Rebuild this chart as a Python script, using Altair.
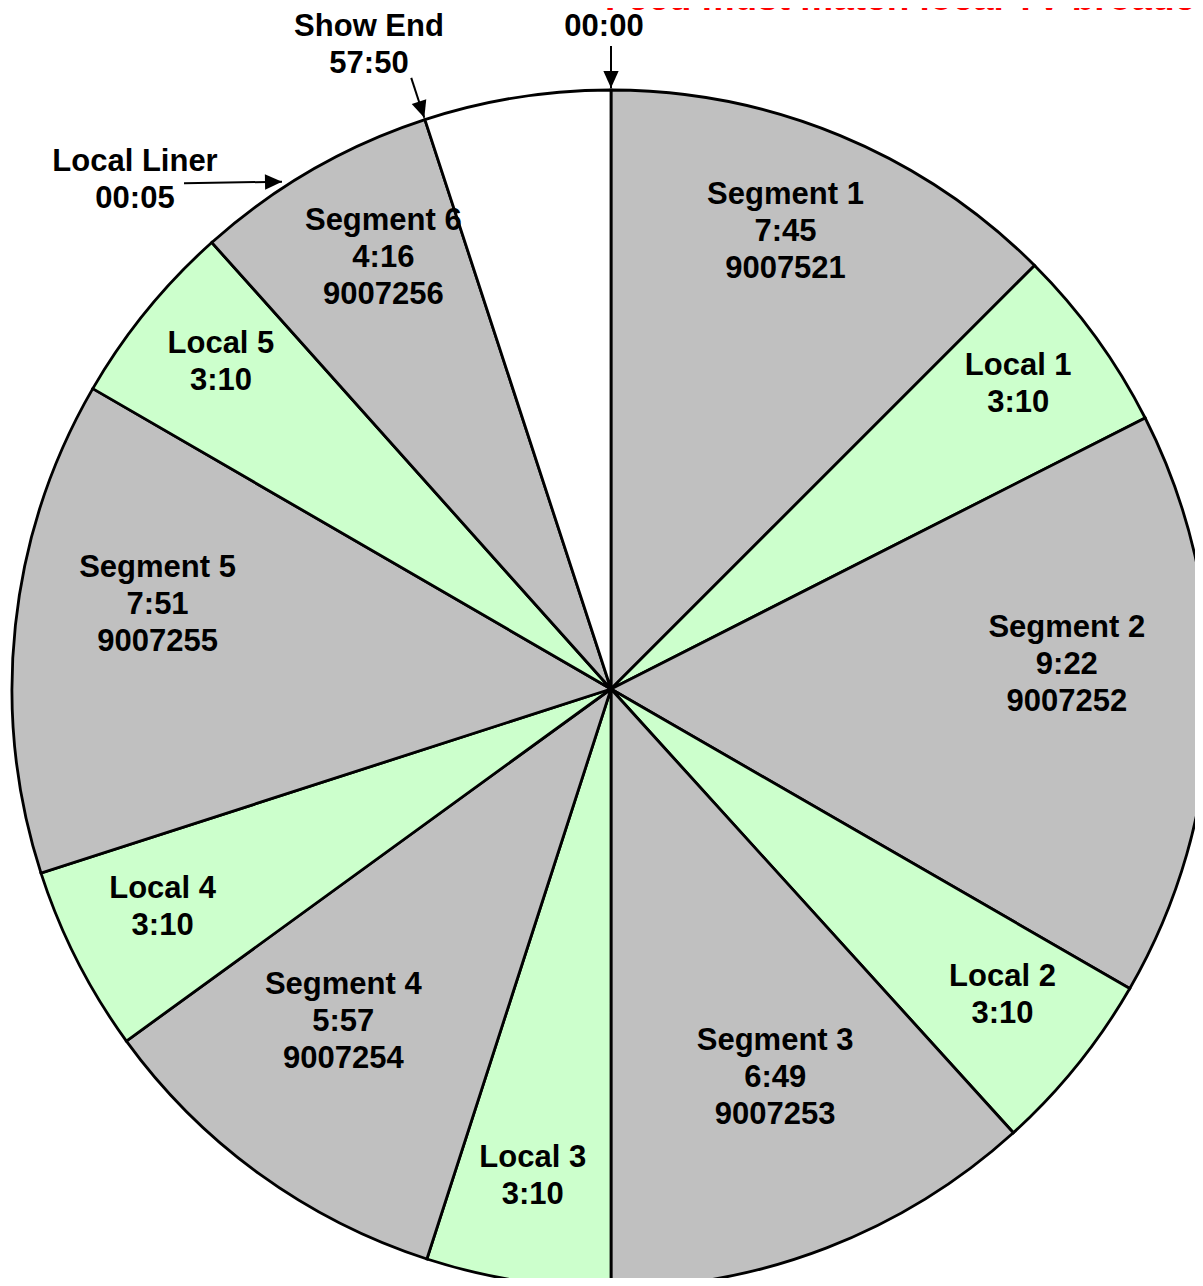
import math
import altair as alt
import pandas as pd

# ---------------- data ----------------
names = ["Segment 1", "Local 1", "Segment 2", "Local 2", "Segment 3", "Local 3",
         "Segment 4", "Local 4", "Segment 5", "Local 5", "Segment 6", ""]
kinds = ["segment", "local", "segment", "local", "segment", "local",
         "segment", "local", "segment", "local", "segment", "open"]
# slice sizes in seconds (1 deg = 10 s)
seconds = [450, 181, 569, 178, 422, 179, 361, 181, 480, 181, 237, 181]
durations = ["7:45", "3:10", "9:22", "3:10", "6:49", "3:10",
             "5:57", "3:10", "7:51", "3:10", "4:16", ""]
house_ids = ["9007521", "", "9007252", "", "9007253", "",
             "9007254", "", "9007255", "", "9007256", ""]

callout_texts = ["00:00", "Show End\n57:50", "Local Liner\n00:05"]
title_text = "Feed must match local TV broadcast"

# ---------------- layout / style constants ----------------
W, H = 1187, 1270
CX, CY, R = 603, 681, 599
FONT = "Liberation Sans"
FS, LH = 31, 37
fills = {"segment": "#C0C0C0", "local": "#CCFFCC", "open": "#FFFFFF"}

TOTAL = sum(seconds)
rows = []
acc = 0
for n, k, s, d, h in zip(names, kinds, seconds, durations, house_ids):
    parts = [p for p in (n, d, h) if p]
    rows.append({"name": n, "kind": k, "start": acc, "end": acc + s,
                 "mid": acc + s / 2, "fill": fills[k], "label": "\n".join(parts)})
    acc += s
df = pd.DataFrame(rows)

theta_scale = alt.Scale(domain=[0, TOTAL])

pie = alt.Chart(df).mark_arc(outerRadius=R, stroke="black", strokeWidth=2.8).encode(
    theta=alt.Theta("start:Q", stack=None, scale=theta_scale),
    theta2="end:Q",
    color=alt.Color("fill:N", scale=None),
    x=alt.value(CX), y=alt.value(CY),
)

def label_layer(kind, radius, nlines, lift):
    return alt.Chart(df[df["kind"] == kind]).mark_text(
        radius=radius, font=FONT, fontSize=FS, fontWeight="bold",
        lineBreak="\n", lineHeight=LH, align="center", baseline="middle",
        color="black", dy=-(nlines - 1) * LH / 2 - lift,
    ).encode(
        theta=alt.Theta("mid:Q", stack=None, scale=theta_scale),
        text="label:N",
        x=alt.value(CX), y=alt.value(CY),
    )

seg_labels = label_layer("segment", 456, 3, 36)
loc_labels = label_layer("local", 503, 2, 9)

# callout labels (pixel placement of the first line)
callout_pos = [(596, 19), (361, 19), (127, 154)]
cdf = pd.DataFrame({"text": callout_texts,
                    "x": [p[0] for p in callout_pos],
                    "y": [p[1] for p in callout_pos]})
callouts = alt.Chart(cdf).mark_text(
    font=FONT, fontSize=FS, fontWeight="bold", lineBreak="\n", lineHeight=LH,
    align="center", baseline="middle", color="black",
).encode(
    x=alt.X("x:Q", scale=None, axis=None),
    y=alt.Y("y:Q", scale=None, axis=None),
    text="text:N",
)

# arrows: two radial ones at 00:00 and at the show end, one horizontal
def radial(t, r_out=643, r_in=601):
    a = 2 * math.pi * t / TOTAL
    return (CX + r_out * math.sin(a), CY - r_out * math.cos(a),
            CX + r_in * math.sin(a), CY - r_in * math.cos(a),
            math.degrees(a) + 180)

show_end = df.loc[df["name"] == "Segment 6", "end"].iloc[0]
arrows = [radial(0), radial(show_end)]
lx1, ly1, lx2, ly2 = 176, 175.3, 274, 173.7
arrows.append((lx1, ly1, lx2, ly2, math.degrees(math.atan2(lx2 - lx1, -(ly2 - ly1)))))
adf = pd.DataFrame(arrows, columns=["x", "y", "x2", "y2", "rot"])

shafts = alt.Chart(adf).mark_rule(color="black", strokeWidth=2).encode(
    x=alt.X("x:Q", scale=None, axis=None),
    y=alt.Y("y:Q", scale=None, axis=None),
    x2="x2:Q", y2="y2:Q",
)
heads = alt.Chart(adf).mark_point(
    shape="M0,0L0.9,2L-0.9,2Z", size=289, filled=True, color="black",
    opacity=1, strokeWidth=0,
).encode(
    x=alt.X("x2:Q", scale=None, axis=None),
    y=alt.Y("y2:Q", scale=None, axis=None),
    angle=alt.Angle("rot:Q", scale=None),
)

title = alt.Chart(pd.DataFrame({"t": [title_text]})).mark_text(
    font=FONT, fontSize=37, fontWeight="bold", color="#FF0000",
    align="left", baseline="alphabetic",
).encode(text="t:N", x=alt.value(597), y=alt.value(2))

chart = alt.layer(pie, seg_labels, loc_labels, shafts, heads, callouts, title).properties(
    width=W, height=H, padding=0,
    autosize=alt.AutoSizeParams(type="none"),
).configure_view(strokeWidth=0)

chart.save("out.html", embed_options={"renderer": "svg", "actions": False})
